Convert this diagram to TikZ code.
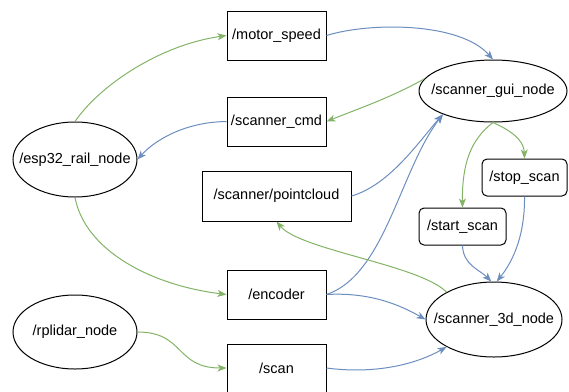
\documentclass[tikz,border=0pt]{standalone}
\usepackage{fontspec}
\setmainfont{Liberation Sans}
\usetikzlibrary{arrows.meta,shapes.geometric}
\definecolor{pubgreen}{HTML}{82B366}
\definecolor{subblue}{HTML}{6C8EBF}
\begin{document}
\begin{tikzpicture}[x=1pt,y=-1pt,
  every node/.style={font=\fontsize{14.5}{17}\selectfont, inner sep=0pt, line width=1pt},
  every label/.style={draw=none, font=\fontsize{14.5}{17}\selectfont},
  topic/.style={draw, rectangle, minimum width=99pt, minimum height=49pt},
  rnode/.style={draw, ellipse, label={center:#1}},
  srv/.style={draw, rectangle, rounded corners=5pt, minimum width=86pt, minimum height=37pt},
  link/.style={line width=1pt, -{Stealth[length=9pt,width=7pt,inset=2.5pt]}},
  pub/.style={link, draw=pubgreen},
  sub/.style={link, draw=subblue}]
\useasboundingbox (0,0) rectangle (569,391);

% ROS nodes (ellipses sized independently of their text)
\node[rnode={/esp32\_rail\_node}, minimum width=124pt, minimum height=75pt] (esp) at (75,159.5) {};
\node[rnode={/rplidar\_node}, minimum width=124pt, minimum height=74pt] (rp) at (75,332) {};
\node[rnode={/scanner\_gui\_node}, minimum width=148pt, minimum height=62pt] (gui) at (493,91) {};
\node[rnode={/scanner\_3d\_node}, minimum width=136pt, minimum height=75pt] (s3d) at (494,319.5) {};

% topics
\node[topic] (ms) at (276.5,35.5) {/motor\_speed};
\node[topic] (cmd) at (276.5,121.5) {/scanner\_cmd};
\node[topic, minimum width=149pt, minimum height=50pt] (pc) at (276.5,196) {/scanner/pointcloud};
\node[topic] (enc) at (276.5,294.5) {/encoder};
\node[topic, minimum height=48pt] (scan) at (276.5,368) {/scan};

% services
\node[srv, minimum width=85pt] (stop) at (524.5,177.5) {/stop\_scan};
\node[srv, minimum width=87pt] (start) at (462.5,226.5) {/start\_scan};

% connections
\draw[pub] (esp.north) .. controls (100,85) and (160,45) .. (ms.west);
\draw[sub] (cmd.west) .. controls (185,122) and (155,140) .. (esp.east);
\draw[pub] (esp.south) .. controls (85,250) and (150,285) .. (enc.west);
\draw[pub] (rp.east) .. controls (185,332) and (175,368) .. (scan.west);
\draw[sub] (ms.east) .. controls (370,22) and (460,22) .. (gui.north);
\draw[pub] (gui.170) .. controls (390,98) and (360,108) .. (cmd.east);
\draw[sub] (pc.east) .. controls (390,185) and (420,140) .. (gui.205);
\draw[sub] (enc.east) .. controls (385,275) and (400,170) .. (gui.205);
\draw[sub] (enc.east) .. controls (370,292) and (400,305) .. (s3d.west);
\draw[sub] (scan.east) .. controls (380,375) and (420,362) .. (s3d.210);
\draw[pub] (s3d.150) .. controls (420,265) and (300,250) .. (pc.south);
\draw[pub] (gui.south) .. controls (510,130) and (524,140) .. (stop.north);
\draw[pub] (gui.south) .. controls (470,140) and (462,165) .. (start.north);
\draw[sub] (start.south) .. controls (463,265) and (480,270) .. (s3d.94);
\draw[sub] (stop.south) .. controls (525,240) and (510,265) .. (s3d.86);
\end{tikzpicture}
\end{document}
